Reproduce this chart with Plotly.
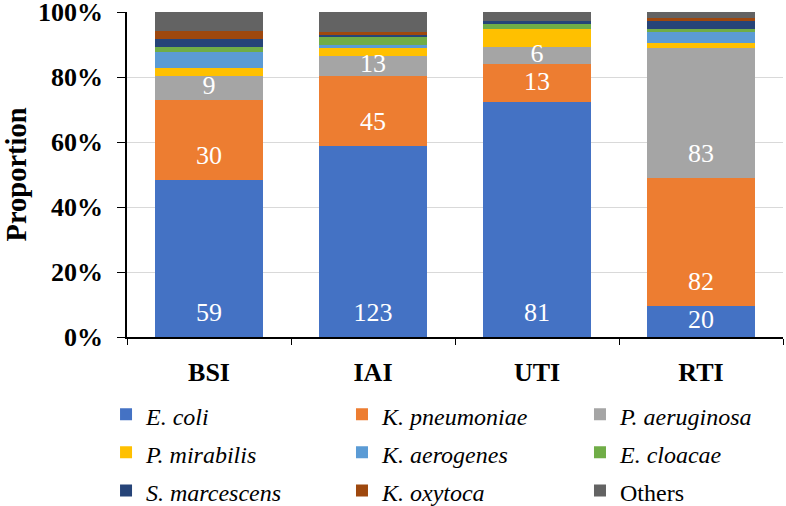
import plotly.graph_objects as go

categories = ["BSI", "IAI", "UTI", "RTI"]
species = ["<i>E. coli</i>", "<i>K. pneumoniae</i>", "<i>P. aeruginosa</i>",
           "<i>P. mirabilis</i>", "<i>K. aerogenes</i>", "<i>E. cloacae</i>",
           "<i>S. marcescens</i>", "<i>K. oxytoca</i>", "Others"]

e_coli = [59, 123, 81, 20]
k_pneumoniae = [30, 45, 13, 82]
p_aeruginosa = [9, 13, 6, 83]
p_mirabilis = [3, 5, 6, 3]
k_aerogenes = [6, 2, 0, 7]
e_cloacae = [2, 5, 2, 2]
s_marcescens = [3, 1, 1, 5]
k_oxytoca = [3, 2, 0, 2]
others = [7, 13, 3, 4]

series = [e_coli, k_pneumoniae, p_aeruginosa, p_mirabilis, k_aerogenes,
          e_cloacae, s_marcescens, k_oxytoca, others]
labelled = [True, True, True, False, False, False, False, False, False]
colors = ["#4472C4", "#ED7D31", "#A5A5A5", "#FFC000", "#5B9BD5",
          "#70AD47", "#264478", "#9E480E", "#636363"]

y_title = "Proportion"

FONT = "Liberation Serif, Times New Roman, serif"
PLOT_H = 325.0  # plot area height in px (for label offset from segment base)
LABEL_OFF_PX = 22.5

totals = [sum(s[i] for s in series) for i in range(len(categories))]

# legend laid out in 3 columns (row-major order, like the original)
legend_ids = ["legend", "legend2", "legend3"]

fig = go.Figure()
for k, (name, vals, col) in enumerate(zip(species, series, colors)):
    fig.add_trace(go.Bar(
        x=categories, y=vals,
        name="<span style='font-size:24px'>%s</span>" % name,
        legend=legend_ids[k % 3],
        marker=dict(color=col, line=dict(width=0)),
        hoverinfo="skip",
    ))

# data labels ("inside base" style) drawn on top of all bars
base = [0.0] * len(categories)
lab_x, lab_y, lab_t = [], [], []
for vals, lab in zip(series, labelled):
    for i, v in enumerate(vals):
        pct = 100.0 * v / totals[i]
        if lab:
            off = min(pct / 2.0, LABEL_OFF_PX / PLOT_H * 100.0)
            lab_x.append(categories[i])
            lab_y.append(base[i] + off)
            lab_t.append(str(v))
        base[i] += pct

fig.add_trace(go.Scatter(
    x=lab_x, y=lab_y, text=lab_t, mode="text",
    textposition="middle center",
    textfont=dict(family=FONT, size=26, color="white"),
    showlegend=False, hoverinfo="skip", cliponaxis=False,
))

legend_common = dict(
    orientation="v",
    xref="container", yref="container",
    xanchor="left", yanchor="top",
    y=0.229,
    traceorder="normal",
    bgcolor="rgba(0,0,0,0)",
    font=dict(family=FONT, size=27, color="black"),
    itemclick=False, itemdoubleclick=False,
)

fig.update_layout(
    barmode="stack",
    barnorm="percent",
    bargap=0.34,
    width=786, height=506,
    margin=dict(l=127, r=2.5, t=12, b=169, autoexpand=False),
    paper_bgcolor="white",
    plot_bgcolor="white",
    font=dict(family=FONT, color="black"),
    showlegend=True,
    legend=dict(x=0.1349, **legend_common),
    legend2=dict(x=0.4351, **legend_common),
    legend3=dict(x=0.7379, **legend_common),
    annotations=[dict(
        text="<b>%s</b>" % y_title,
        xref="paper", yref="paper",
        x=-0.1692, y=0.5,
        xanchor="center", yanchor="middle",
        textangle=-90, showarrow=False,
        font=dict(family=FONT, size=28.5, color="black"),
    )],
)

fig.update_xaxes(
    automargin=False,
    showline=True, linecolor="black", linewidth=1.5,
    ticks="outside", tickson="boundaries", ticklen=6, tickcolor="black",
    ticklabelstandoff=11,
    tickfont=dict(family=FONT, size=26, color="black"),
    tickprefix="<b>", ticksuffix="</b>",
    showgrid=False,
)
fig.update_yaxes(
    automargin=False,
    range=[0, 100], dtick=20,
    tickprefix="<b>", ticksuffix="%</b>",
    showline=True, linecolor="black", linewidth=1.5,
    ticks="outside", ticklen=8, tickcolor="black",
    ticklabelstandoff=9, ticklabeloverflow="allow",
    tickfont=dict(family=FONT, size=26, color="black"),
    showgrid=True, gridcolor="#D9D9D9", gridwidth=1,
    zeroline=False,
)

# remove the browser's default 8px body margin so the figure sits at (0, 0)
fig.write_html("out.html", config={"displayModeBar": False},
               post_script="document.body.style.margin='0';")
